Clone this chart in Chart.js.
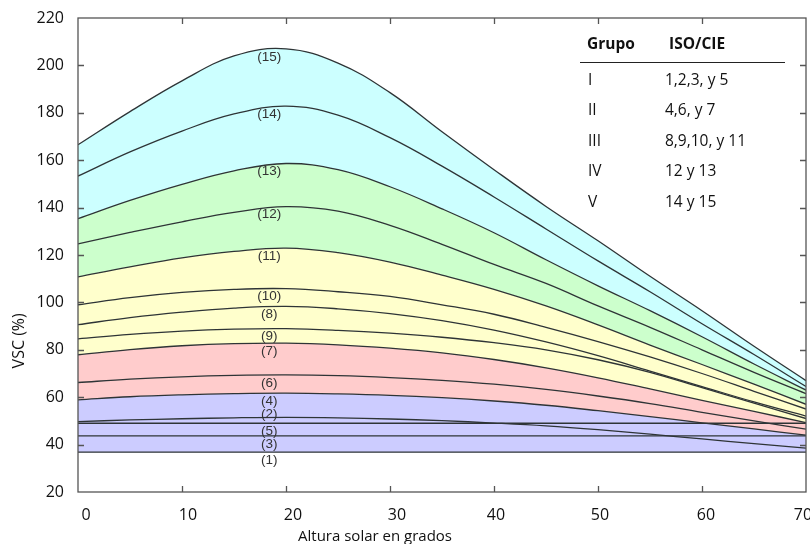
<!DOCTYPE html>
<html><head><meta charset="utf-8">
<script src="https://cdn.jsdelivr.net/npm/chart.js@4.4.1/dist/chart.umd.min.js"></script>
<style>html,body{margin:0;padding:0;background:#fff;}#wrap{width:810px;height:544px;position:relative;}</style>
</head><body><div id="wrap"><canvas id="c" width="810" height="544"></canvas></div>
<script>
// Solar altitude (degrees) sample points
const altitudes = [0, 5, 10, 15, 20, 25, 30, 35, 40, 45, 50, 55, 60, 65, 70];
// VSC (%) for each ISO/CIE sky type
const sky1  = [36.8,36.8,36.8,36.8,36.8,36.8,36.8,36.8,36.8,36.8,36.8,36.8,36.8,36.8,36.8];
const sky3  = [43.7,43.7,43.7,43.7,43.7,43.7,43.7,43.7,43.7,43.7,43.7,43.7,43.7,43.7,43.7];
const sky5  = [49.0,49.0,49.0,49.0,49.0,49.0,49.0,49.0,49.0,49.0,49.0,49.0,49.0,49.0,49.0];
const sky2  = [49.7,50.4,50.9,51.3,51.5,51.3,50.8,50.1,49.1,47.9,46.3,44.4,42.4,40.4,38.5];
const sky4  = [58.9,60.2,61.0,61.5,61.7,61.4,60.8,59.8,58.4,56.6,54.3,51.8,49.2,46.6,44.0];
const sky6  = [66.2,67.6,68.6,69.2,69.4,69.1,68.3,67.1,65.5,63.3,60.5,57.3,53.6,50.0,46.5];
const sky7  = [77.9,80.1,81.7,82.6,82.8,82.1,80.7,78.7,75.9,72.4,68.2,63.5,58.7,54.0,49.3];
const sky9  = [84.6,86.5,87.9,88.7,88.9,88.2,87.0,85.3,83.0,80.0,75.8,70.5,64.0,57.5,51.0];
const sky8  = [90.6,93.6,95.9,97.6,98.3,97.3,95.3,92.3,88.3,83.3,77.5,71.0,64.5,58.0,52.0];
const sky10 = [99.0,102.0,104.2,105.5,105.8,104.5,102.5,99.0,95.0,89.5,83.5,77.0,70.0,62.5,55.0];
const sky11 = [110.8,115.0,118.8,121.5,122.9,121.0,117.0,111.5,105.5,98.5,90.5,82.0,73.8,65.5,57.0];
const sky12 = [124.7,129.5,134.0,138.0,140.4,138.5,132.5,124.5,116.0,108.0,98.5,89.5,80.0,70.5,61.5];
const sky13 = [135.3,143.0,149.8,155.5,158.6,156.0,148.8,139.5,129.4,118.0,107.0,96.5,85.5,74.0,63.0];
const sky14 = [153.3,163.5,172.3,179.5,182.8,179.0,169.5,157.5,144.5,131.0,117.5,104.5,91.0,78.0,64.5];
const sky15 = [166.5,180.5,193.5,204.0,207.0,201.0,188.5,172.0,156.0,140.5,126.0,111.0,96.5,81.5,67.0];
const yTicks = [20, 40, 60, 80, 100, 120, 140, 160, 180, 200, 220];
const xTicks = [0, 10, 20, 30, 40, 50, 60, 70];
const tableHeader = ['Grupo', 'ISO/CIE'];
const tableGroups = ['I', 'II', 'III', 'IV', 'V'];
const tableTypes = ['1,2,3, y 5', '4,6, y 7', '8,9,10, y 11', '12 y 13', '14 y 15'];

const pts = arr => arr.map((v, i) => ({x: altitudes[i], y: v}));
const LINE = '#2e3436';
const C = {blue:'#ccccff', pink:'#ffcccc', yellow:'#ffffcc', green:'#ccffcc', cyan:'#ccffff'};
const series = [
  ['(1)', sky1, false, 0],
  ['(3)', sky3, false, 0],
  ['(5)', sky5, false, 0],
  ['(2)', sky2, false, -11],
  ['(4)', sky4, {target: 0, above: C.blue, below: C.blue}, 0],
  ['(6)', sky6, false, 0],
  ['(7)', sky7, {target: 4, above: C.pink, below: C.pink}, 0],
  ['(9)', sky9, false, 0],
  ['(8)', sky8, false, 0],
  ['(10)', sky10, false, 0],
  ['(11)', sky11, {target: 6, above: C.yellow, below: C.yellow}, 0],
  ['(12)', sky12, false, 0],
  ['(13)', sky13, {target: 10, above: C.green, below: C.green}, 0],
  ['(14)', sky14, false, 0],
  ['(15)', sky15, {target: 12, above: C.cyan, below: C.cyan}, 0]
];
const datasets = series.map(([lab, arr, fill, off]) => ({
  label: lab, data: pts(arr), fill: fill, labelShift: off,
  borderColor: LINE, borderWidth: 1.3, pointRadius: 0,
  tension: 0.4, backgroundColor: 'transparent'
}));
// x tick label horizontal nudges (style only)
const xLabelNudge = [8, 6, 7, 7, 2, 2, 4, -3];

const decor = {
  id: 'decor',
  afterDatasetsDraw(chart) {
    const {ctx, scales: {x, y}} = chart;
    ctx.save();
    ctx.font = '13.5px "Liberation Sans", Arial, sans-serif';
    ctx.fillStyle = '#333';
    ctx.textAlign = 'center';
    ctx.textBaseline = 'middle';
    chart.data.datasets.forEach(ds => {
      const peak = Math.max(...ds.data.map(p => p.y));
      const py = y.getPixelForValue(peak) + 8 + ds.labelShift;
      ctx.fillText(ds.label, x.getPixelForValue(18.4), py);
    });
    ctx.restore();
  },
  afterDraw(chart) {
    const {ctx, chartArea: a, scales: {x, y}} = chart;
    ctx.save();
    ctx.strokeStyle = '#555';
    ctx.lineWidth = 1.3;
    ctx.strokeRect(a.left, a.top, a.right - a.left, a.bottom - a.top);
    ctx.beginPath();
    xTicks.forEach(v => {
      const px = Math.round(x.getPixelForValue(v)) + 0.5;
      if (px < a.left + 2 || px > a.right - 2) return;
      ctx.moveTo(px, a.bottom); ctx.lineTo(px, a.bottom - 6);
      ctx.moveTo(px, a.top); ctx.lineTo(px, a.top + 6);
    });
    yTicks.forEach(v => {
      const py = Math.round(y.getPixelForValue(v)) + 0.5;
      if (py < a.top + 2 || py > a.bottom - 2) return;
      ctx.moveTo(a.left, py); ctx.lineTo(a.left + 6, py);
      ctx.moveTo(a.right, py); ctx.lineTo(a.right - 6, py);
    });
    ctx.stroke();
    ctx.fillStyle = '#111';
    ctx.font = '16px "Open Sans", sans-serif';
    ctx.textAlign = 'center';
    ctx.textBaseline = 'middle';
    xTicks.forEach((v, i) => {
      ctx.fillText(String(v), x.getPixelForValue(v) + xLabelNudge[i], a.bottom + 23);
    });
    ctx.font = '15px "Open Sans", sans-serif';
    ctx.fillText('Altura solar en grados', a.left + 0.408 * (a.right - a.left), 537);
    ctx.font = '16px "Open Sans", sans-serif';
    ctx.save();
    ctx.translate(19, a.top + 0.681 * (a.bottom - a.top));
    ctx.rotate(-Math.PI / 2);
    ctx.fillText('VSC (%)', 0, 0);
    ctx.restore();
    ctx.textAlign = 'left';
    ctx.font = 'bold 15.5px "Open Sans", sans-serif';
    ctx.fillText(tableHeader[0], 587, 45);
    ctx.fillText(tableHeader[1], 669, 45);
    ctx.strokeStyle = '#222';
    ctx.lineWidth = 1;
    ctx.beginPath(); ctx.moveTo(580, 62.5); ctx.lineTo(785, 62.5); ctx.stroke();
    ctx.font = '15.5px "Open Sans", sans-serif';
    tableGroups.forEach((g, i) => {
      const ty = 80.5 + i * 30.5;
      ctx.fillText(g, 588, ty);
      ctx.fillText(tableTypes[i], 665, ty);
    });
    ctx.restore();
  }
};

new Chart(document.getElementById('c'), {
  type: 'line',
  data: {datasets},
  plugins: [decor],
  options: {
    responsive: false, animation: false, devicePixelRatio: 1,
    layout: {padding: {left: 0, right: 4, top: 18, bottom: 0}},
    plugins: {legend: {display: false}, tooltip: {enabled: false}, filler: {propagate: false}},
    scales: {
      x: {
        type: 'linear', min: 0, max: 70,
        afterBuildTicks: s => { s.ticks = xTicks.map(v => ({value: v})); },
        grid: {display: false, drawTicks: false},
        border: {display: false},
        ticks: {display: false},
        afterFit: s => { s.height = 52; s.paddingLeft = 0; s.paddingRight = 0; }
      },
      y: {
        min: 20, max: 220,
        afterBuildTicks: s => { s.ticks = yTicks.map(v => ({value: v})); },
        grid: {display: false, drawTicks: false},
        border: {display: false},
        ticks: {padding: 14, color: '#111', font: {family: 'Open Sans', size: 16}, autoSkip: false},
        afterFit: s => { s.width = 78; s.paddingTop = 0; s.paddingBottom = 0; }
      }
    }
  }
});
</script>
</body></html>
